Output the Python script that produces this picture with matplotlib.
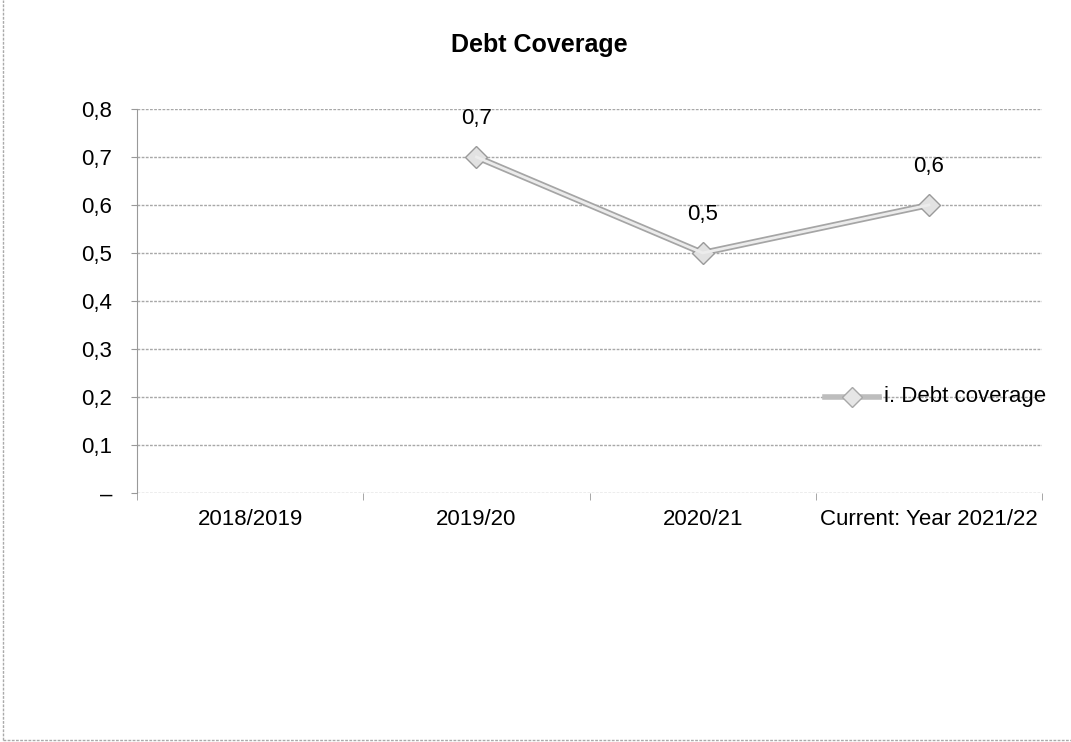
import numpy as np
import matplotlib.pyplot as plt
from matplotlib.lines import Line2D

categories = ['2018/2019', '2019/20', '2020/21', 'Current: Year 2021/22']
values = [np.nan, 0.7, 0.5, 0.6]
labels = ['', '0,7', '0,5', '0,6']
yticks = [0, 0.1, 0.2, 0.3, 0.4, 0.5, 0.6, 0.7, 0.8]
yticklabels = ['–', '0,1', '0,2', '0,3', '0,4', '0,5', '0,6', '0,7', '0,8']

plt.rcParams['font.family'] = ['Liberation Sans', 'DejaVu Sans']

fig = plt.figure(figsize=(10.71, 7.42), dpi=100)
ax = fig.add_axes([0.128, 0.336, 0.845, 0.517])

x = np.arange(len(categories))

# double-line look: gray outline + light core
ax.plot(x, values, color='#a5a5a5', linewidth=4.5, marker='D', markersize=11,
        markerfacecolor='#e2e2e2', markeredgecolor='#9a9a9a', zorder=3)
ax.plot(x, values, color='#ececec', linewidth=2, zorder=4)

for xi, v, t in zip(x, values, labels):
    if t:
        ax.annotate(t, (xi, v), xytext=(0, 20), textcoords='offset points',
                    ha='center', va='bottom', fontsize=16)

ax.set_xlim(-0.5, len(categories) - 0.5)
ax.set_ylim(0, 0.8)
ax.set_yticks(yticks)
ax.set_yticklabels(yticklabels, fontsize=16)
ax.set_xticks(x)
ax.set_xticklabels(categories, fontsize=16)
ax.set_xticks(np.arange(-0.5, len(categories)), minor=True)
ax.tick_params(axis='x', which='major', length=0, pad=12)
ax.tick_params(axis='x', which='minor', length=5, color='#999999')
ax.tick_params(axis='y', length=4, color='#999999', pad=14)

ax.grid(axis='y', color='#a8a8a8', linewidth=1, linestyle=(0, (2, 1)))
ax.set_axisbelow(True)
for s in ['top', 'right', 'bottom']:
    ax.spines[s].set_visible(False)
ax.spines['left'].set_color('#999999')
ax.spines['left'].set_linestyle((0, (2, 1)))

# legend drawn inside the plot area on the right
ax.plot([2.54, 2.78], [0.2, 0.2], color='#bdbdbd', linewidth=4, zorder=3)
ax.plot([2.66], [0.2], marker='D', markersize=10, markerfacecolor='#e6e6e6',
        markeredgecolor='#a8a8a8', zorder=4)
ax.text(2.80, 0.2, 'i. Debt coverage', fontsize=16, va='center', ha='left')

fig.text(0.504, 0.939, 'Debt Coverage', fontsize=18, fontweight='bold',
         ha='center', va='center')

# scanned page border (left and bottom)
for xs, ys in [([0.003, 0.003], [0.003, 1.0]), ([0.003, 1.0], [0.003, 0.003])]:
    fig.add_artist(Line2D(xs, ys, transform=fig.transFigure, color='#aaaaaa',
                          linewidth=1, linestyle=(0, (2, 1))))

fig.savefig('out.png', dpi=100)
